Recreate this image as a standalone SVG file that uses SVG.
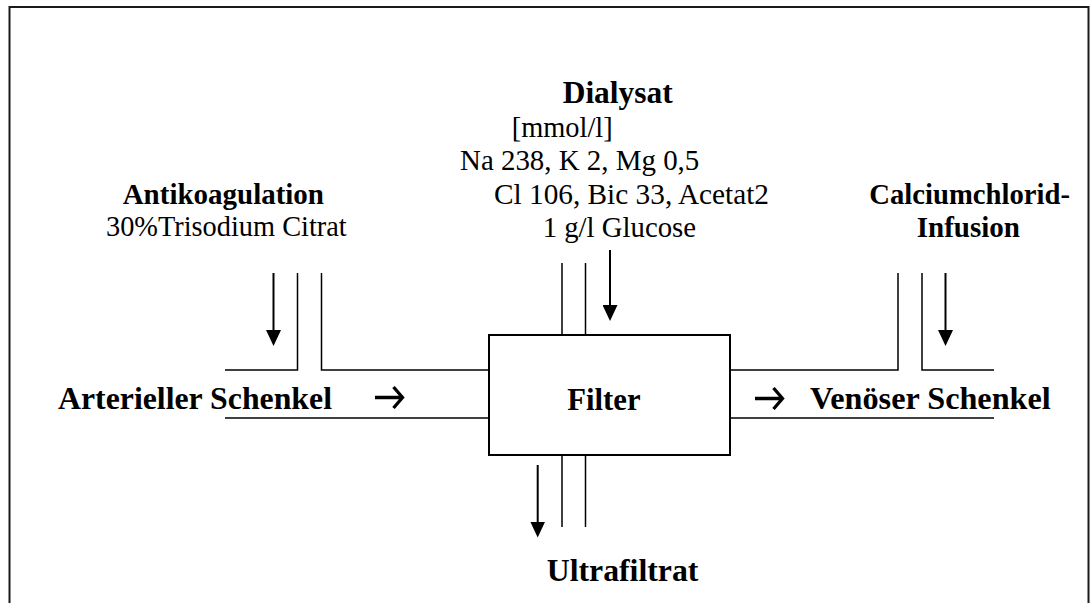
<svg xmlns="http://www.w3.org/2000/svg" width="1091" height="603" viewBox="0 0 1091 603">
<style>
text{font-family:"Liberation Serif","Times New Roman",serif;fill:#000}
.b{font-weight:bold}
.s{font-size:29px}
.l{font-size:32px}
.pipe{fill:none;stroke:#000;stroke-width:1.5}
.shaft{fill:none;stroke:#000;stroke-width:2;marker-end:url(#ah)}
.chev{fill:none;stroke:#000;stroke-width:3.3}
</style>
<defs>
<marker id="ah" viewBox="0 0 16 15" refX="8" refY="7.5" markerWidth="16" markerHeight="15" markerUnits="userSpaceOnUse" orient="auto">
<path d="M0,0 L16,7.5 L0,15 z" fill="#000"/>
</marker>
</defs>
<rect width="1091" height="603" fill="#fff"/>
<rect id="frame" x="9.5" y="7" width="1079" height="640" fill="none" stroke="#1a1a1a" stroke-width="2"/>

<g id="connectors">
<path class="pipe" d="M225,370 H297.5 V273"/>
<path class="pipe" d="M321.5,273 V370 H489"/>
<path class="pipe" d="M225,418 H489"/>
<path class="pipe" d="M730,370 H898 V273"/>
<path class="pipe" d="M922,273 V370 H994"/>
<path class="pipe" d="M730,418 H994"/>
<path class="pipe" d="M562,263 V335 M585.5,263 V335"/>
<path class="pipe" d="M562,455 V527 M585.5,455 V527"/>
<line class="shaft" x1="273.5" y1="273" x2="273.5" y2="338"/>
<line class="shaft" x1="945.5" y1="273" x2="945.5" y2="338"/>
<line class="shaft" x1="610" y1="250" x2="610" y2="313"/>
<line class="shaft" x1="537.7" y1="465" x2="537.7" y2="529.5"/>
<path class="chev" d="M375,397.5 H401 M393.5,387 L402.5,397.5 L393.5,408"/>
<path class="chev" d="M755,398.5 H781 M773.5,388 L782.5,398.5 L773.5,409"/>
</g>

<g id="filter">
<rect x="489" y="335" width="241" height="120" fill="none" stroke="#000" stroke-width="2"/>
<text class="b l" x="567.3" y="410" textLength="73.3" lengthAdjust="spacingAndGlyphs">Filter</text>
</g>

<g id="dialysat">
<text class="b l" x="562.7" y="103" textLength="110" lengthAdjust="spacingAndGlyphs">Dialysat</text>
<text class="s" x="511.7" y="136.5" textLength="101" lengthAdjust="spacingAndGlyphs">[mmol/l]</text>
<text class="s" x="460" y="170" textLength="239.3" lengthAdjust="spacingAndGlyphs">Na 238, K 2, Mg 0,5</text>
<text class="s" x="494" y="204" textLength="275" lengthAdjust="spacingAndGlyphs">Cl 106, Bic 33, Acetat2</text>
<text class="s" x="542.7" y="237" textLength="153.3" lengthAdjust="spacingAndGlyphs">1 g/l Glucose</text>
</g>

<g id="antikoagulation">
<text class="b s" x="122.7" y="204" textLength="201.3" lengthAdjust="spacingAndGlyphs">Antikoagulation</text>
<text class="s" x="106" y="236" textLength="240.7" lengthAdjust="spacingAndGlyphs">30%Trisodium Citrat</text>
</g>

<g id="calciumchlorid">
<text class="b s" x="869.3" y="204" textLength="200.7" lengthAdjust="spacingAndGlyphs">Calciumchlorid-</text>
<text class="b s" x="916.7" y="237" textLength="103.3" lengthAdjust="spacingAndGlyphs">Infusion</text>
</g>

<g id="arterieller">
<text class="b l" x="58" y="409" textLength="274" lengthAdjust="spacingAndGlyphs">Arterieller Schenkel</text>
</g>

<g id="venoeser">
<text class="b l" x="810" y="409" textLength="240.7" lengthAdjust="spacingAndGlyphs">Venöser Schenkel</text>
</g>

<g id="ultrafiltrat">
<text class="b l" x="546.7" y="581" textLength="151.7" lengthAdjust="spacingAndGlyphs">Ultrafiltrat</text>
</g>
</svg>
